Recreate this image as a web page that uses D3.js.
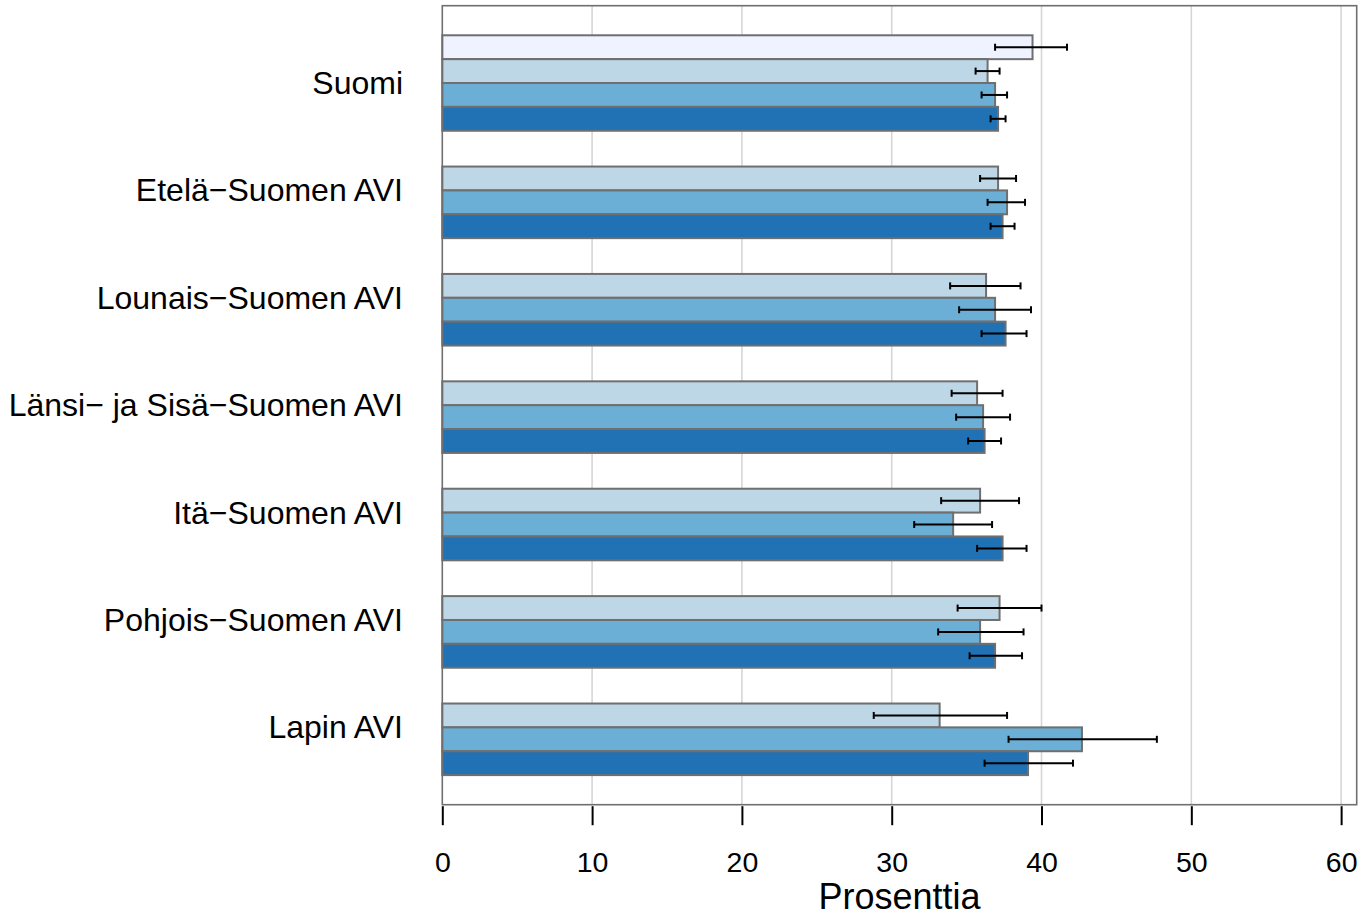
<!DOCTYPE html>
<html>
<head>
<meta charset="utf-8">
<script src="https://cdn.jsdelivr.net/npm/d3@7"></script>
<style>
html,body{margin:0;padding:0;background:#fff;}
svg{display:block;}
text{font-family:"Liberation Sans",Arial,Helvetica,sans-serif;}
</style>
</head>
<body>
<svg id="chart" width="1368" height="918"></svg>
<script>
// ---- data ----
const categories = ["Suomi","Etelä\u2212Suomen AVI","Lounais\u2212Suomen AVI","Länsi\u2212 ja Sisä\u2212Suomen AVI","Itä\u2212Suomen AVI","Pohjois\u2212Suomen AVI","Lapin AVI"];
const seriesNames = ["s1","s2","s3","s4"];
const s1 = [39.4, null, null, null, null, null, null];
const s1Lo = [36.9, null, null, null, null, null, null];
const s1Hi = [41.7, null, null, null, null, null, null];
const s2 = [36.4, 37.1, 36.3, 35.7, 35.9, 37.2, 33.2];
const s2Lo = [35.6, 35.9, 33.9, 34.0, 33.3, 34.4, 28.8];
const s2Hi = [37.2, 38.3, 38.6, 37.4, 38.5, 40.0, 37.7];
const s3 = [36.9, 37.7, 36.9, 36.1, 34.1, 35.9, 42.7];
const s3Lo = [36.0, 36.4, 34.5, 34.3, 31.5, 33.1, 37.8];
const s3Hi = [37.7, 38.9, 39.3, 37.9, 36.7, 38.8, 47.7];
const s4 = [37.1, 37.4, 37.6, 36.2, 37.4, 36.9, 39.1];
const s4Lo = [36.6, 36.6, 36.0, 35.1, 35.7, 35.2, 36.2];
const s4Hi = [37.6, 38.2, 39.0, 37.3, 39.0, 38.7, 42.1];
const xTicks = [0, 10, 20, 30, 40, 50, 60];
const xLabel = "Prosenttia";
const colors = ["#EFF3FF", "#BDD7E7", "#6BAED6", "#2171B5"];

const values = [s1, s2, s3, s4];
const lows = [s1Lo, s2Lo, s3Lo, s4Lo];
const highs = [s1Hi, s2Hi, s3Hi, s4Hi];

// ---- layout ----
const L = 442.3, R = 1356.7, T = 5.7, B = 804.7;
const svg = d3.select("#chart");
const x = d3.scaleLinear().domain([0, 61.04]).range([L, R]);
// slot units: each bar 1, gap 0.5 before each group, 4% padding
const nS = seriesNames.length, gap = 0.5;
const totalU = categories.length * (nS + gap);
const padU = 0.04 * (totalU - gap);
const y = d3.scaleLinear().domain([gap - padU, totalU + padU]).range([T, B]);
const barTop = (g, k) => y(gap + g * (nS + gap) + k);
const bh = y(1) - y(0);

// gridlines
svg.append("g").selectAll("line").data(xTicks.filter(d => d > 0)).join("line")
  .attr("x1", d => x(d)).attr("x2", d => x(d))
  .attr("y1", T).attr("y2", B)
  .attr("stroke", "#d6d6d6").attr("stroke-width", 1.6);

// bars
const barData = [];
categories.forEach((c, g) => {
  values.forEach((arr, k) => {
    if (arr[g] != null) barData.push({g, k, v: arr[g], lo: lows[k][g], hi: highs[k][g]});
  });
});
svg.append("g").selectAll("rect").data(barData).join("rect")
  .attr("x", x(0))
  .attr("y", d => barTop(d.g, d.k))
  .attr("width", d => x(d.v) - x(0))
  .attr("height", bh)
  .attr("fill", d => colors[d.k])
  .attr("stroke", "#6f6f6f").attr("stroke-width", 2);

// error bars
const eb = svg.append("g").attr("stroke", "#000").attr("stroke-width", 2);
barData.forEach(d => {
  const cy = barTop(d.g, d.k) + bh / 2;
  eb.append("line").attr("x1", x(d.lo)).attr("x2", x(d.hi)).attr("y1", cy).attr("y2", cy);
  eb.append("line").attr("x1", x(d.lo)).attr("x2", x(d.lo)).attr("y1", cy - 3.5).attr("y2", cy + 3.5);
  eb.append("line").attr("x1", x(d.hi)).attr("x2", x(d.hi)).attr("y1", cy - 3.5).attr("y2", cy + 3.5);
});

// box
svg.append("rect").attr("x", L).attr("y", T).attr("width", R - L).attr("height", B - T)
  .attr("fill", "none").attr("stroke", "#6f6f6f").attr("stroke-width", 1.6);

// category labels
svg.append("g").selectAll("text").data(categories).join("text")
  .attr("x", 403)
  .attr("y", (d, g) => (barTop(g, 0) + barTop(g, nS)) / 2 + 11)
  .attr("text-anchor", "end")
  .attr("font-size", 32)
  .attr("fill", "#000")
  .text(d => d);

// x axis
const ax = svg.append("g").attr("transform", `translate(0,${B + 1.5})`)
  .call(d3.axisBottom(x).tickValues(xTicks).tickSize(19).tickFormat(d3.format("d")));
ax.select(".domain").remove();
ax.selectAll(".tick line").attr("stroke", "#000").attr("stroke-width", 2);
ax.selectAll(".tick text").attr("font-size", 28.5).attr("fill", "#000")
  .attr("font-family", '"Liberation Sans",Arial,sans-serif')
  .attr("dy", null).attr("y", 66);

svg.append("text").attr("x", (L + R) / 2).attr("y", 909)
  .attr("text-anchor", "middle").attr("font-size", 36).attr("fill", "#000")
  .text(xLabel);
</script>
</body>
</html>
